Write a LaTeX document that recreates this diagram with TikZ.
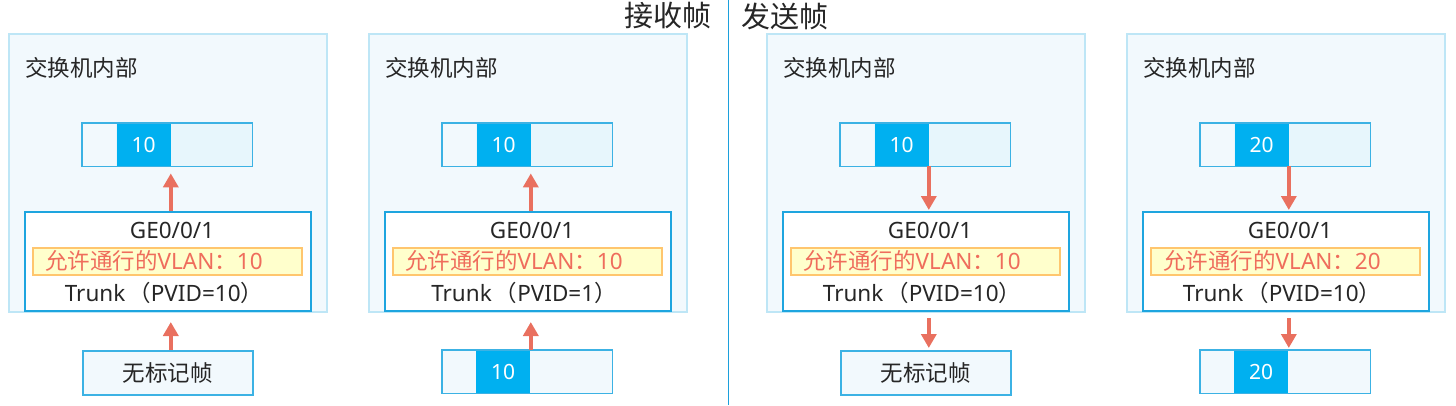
\documentclass[tikz,border=0pt]{standalone}
\usepackage{fontspec}
\setmainfont{Noto Sans}
\newfontfamily\cjk{Noto Sans CJK SC}
\usepackage{ifthen}
\usetikzlibrary{arrows.meta,positioning}

\definecolor{panelfill}{HTML}{F2F9FD}
\definecolor{panelline}{HTML}{BEE6F6}
\definecolor{barline}{HTML}{3CB2E4}
\definecolor{barfill}{HTML}{E7F6FC}
\definecolor{tagblue}{HTML}{00B0F0}
\definecolor{portline}{HTML}{1EA5DF}
\definecolor{allowfill}{HTML}{FFFFCC}
\definecolor{allowline}{HTML}{FFC66E}
\definecolor{allowtext}{HTML}{EF6D5C}
\definecolor{arrowred}{HTML}{E9705F}
\definecolor{divline}{HTML}{1CA0DC}

\tikzset{
  txt/.style={inner sep=0pt,font=\fontsize{22.5}{26}\selectfont,text=black!85},
  cjktxt/.style={inner sep=0pt,font=\cjk\fontsize{22.5}{26}\selectfont,text=black!85},
  headtxt/.style={inner sep=0pt,font=\cjk\fontsize{29}{33}\selectfont,text=black!85},
  panel/.style={draw=panelline,fill=panelfill,line width=1.5pt,minimum width=318pt,minimum height=278pt,inner sep=0pt},
  framebar/.style={fill=barfill,minimum width=170pt,minimum height=43pt,inner sep=0pt},
  leftseg/.style={fill=panelfill,minimum width=34pt,minimum height=43pt,inner sep=0pt},
  tagbox/.style={fill=tagblue,minimum width=54pt,minimum height=43pt,inner sep=0pt,text=white,font=\fontsize{21}{24}\selectfont},
  barframe/.style={draw=barline,line width=1.5pt},
  portbox/.style={draw=portline,fill=white,line width=2pt,minimum width=286pt,minimum height=99pt,inner sep=0pt},
  allowbar/.style={draw=allowline,fill=allowfill,line width=1.5pt,minimum width=269pt,minimum height=27pt,inner sep=0pt},
  allowtxt/.style={txt,text=allowtext},
  plainbox/.style={cjktxt,draw=barline,fill=panelfill,line width=1.5pt,minimum width=170pt,minimum height=44pt},
  redarrow/.style={draw=arrowred,line width=4pt,-{Triangle[width=15pt,length=14pt]}}
}

\begin{document}
\begin{tikzpicture}[x=1pt,y=-1pt]
  \useasboundingbox (0,0) rectangle (1456,405);

  % headings and divider
  \node[headtxt,anchor=east] (rxhead) at (712,16) {接收帧};
  \node[headtxt,anchor=west] (txhead) at (741,16) {发送帧};
  \coordinate (divtop) at (728,0);
  \coordinate (divbot) at (728,405);
  \draw[divline,line width=1pt] (divtop) -- (divbot);

  \foreach \px/\n/\vlan/\pvid/\way/\kind in {8/1/10/10/in/plain,368/2/10/1/in/tag,766/3/10/10/out/plain,1126/4/20/10/out/tag} {
    \node[panel,anchor=north west] (outer\n) at (\px,33) {};
    \node[cjktxt,anchor=west] (title\n) at (\px+17,68) {交换机内部};

    % frame inside the switch
    \node[framebar,anchor=north west] (bar\n) at (\px+74,123) {};
    \node[leftseg,anchor=west] (left\n) at (bar\n.west) {};
    \node[tagbox,right=0pt of left\n] (tag\n) {\vlan};
    \draw[barframe] (bar\n.south west) rectangle (bar\n.north east);

    % port
    \node[portbox,anchor=north west] (port\n) at (\px+16,211) {};
    \node[txt] (ge\n) at (\px+164,230) {GE0/0/1};
    \node[allowbar,anchor=north west] (allow\n) at (\px+24,247) {};
    \node[allowtxt,anchor=west] (allowlbl\n) at (\px+37,261) {{\cjk 允许通行的}VLAN{\cjk ：}\vlan};
    \node[txt] (trunk\n) at (\px+156,293) {Trunk\hspace{3pt}{\cjk （}PVID=\pvid{\cjk ）}};

    % frame outside the switch
    \ifthenelse{\equal{\kind}{plain}}{
      \node[plainbox,anchor=north west] (bot\n) at (\px+74,350) {无标记帧};
      \coordinate (botx\n) at (tag\n.east |- bot\n.north);
    }{
      \node[framebar,fill=panelfill,anchor=north west] (bot\n) at (\px+74,350) {};
      \node[tagbox,anchor=west] (bottag\n) at ([xshift=34pt]bot\n.west) {\vlan};
      \draw[barframe] (bot\n.south west) rectangle (bot\n.north east);
      \coordinate (botx\n) at (tag\n.east |- bot\n.north);
    }

    % arrows
    \ifthenelse{\equal{\way}{in}}{
      \draw[redarrow] (tag\n.east |- port\n.north) -- ([yshift=-7pt]tag\n.south east);
      \draw[redarrow] (botx\n) -- ([yshift=-10pt]tag\n.east |- port\n.south);
    }{
      \draw[redarrow] (tag\n.south east) -- ([yshift=1pt]tag\n.east |- port\n.north);
      \draw[redarrow] ([yshift=-6pt]tag\n.east |- port\n.south) -- ([yshift=2pt]botx\n);
    }
  }
\end{tikzpicture}
\end{document}
